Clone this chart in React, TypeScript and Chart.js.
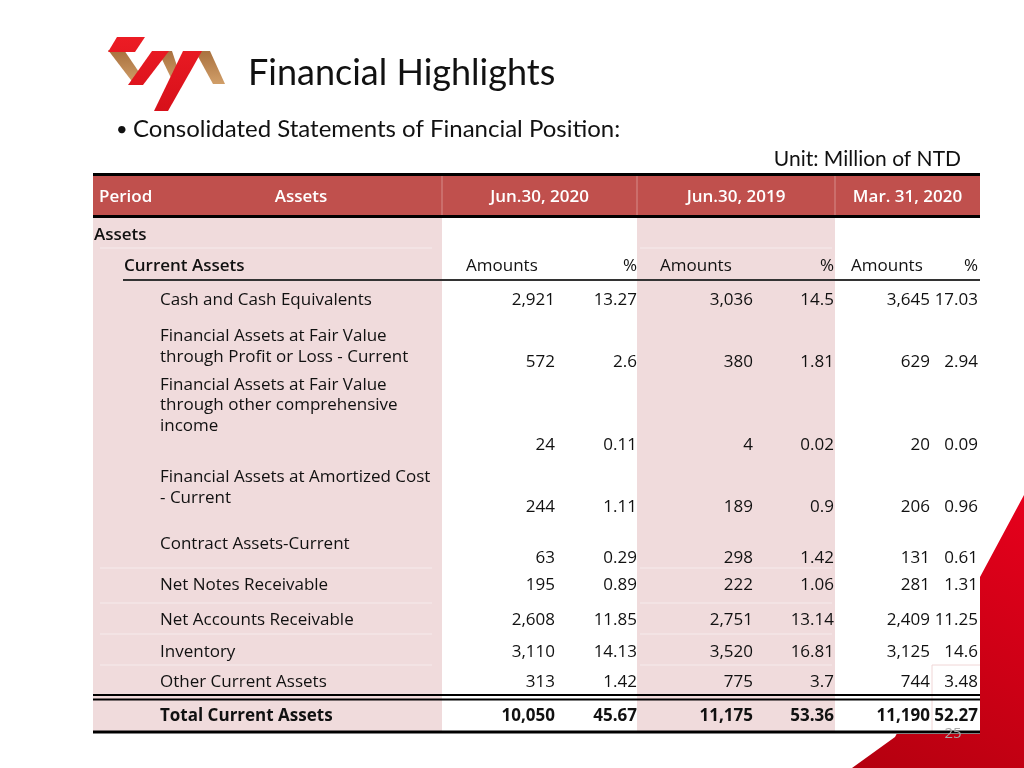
import React, { useEffect, useRef } from "react";
import { Chart, registerables } from "chart.js";

Chart.register(...registerables);

// ---------- data ----------
const slideTitle = "Financial Highlights";
const subtitle = "Consolidated Statements of Financial Position:";
const unitLabel = "Unit: Million of NTD";
const periods = ["Jun.30, 2020", "Jun.30, 2019", "Mar. 31, 2020"];
const rowLabels: string[][] = [
  ["Cash and Cash Equivalents"],
  ["Financial Assets at Fair Value", "through Profit or Loss - Current"],
  ["Financial Assets at Fair Value", "through other comprehensive", "income"],
  ["Financial Assets at Amortized Cost", "- Current"],
  ["Contract Assets-Current"],
  ["Net Notes Receivable"],
  ["Net Accounts Receivable"],
  ["Inventory"],
  ["Other Current Assets"],
];
const amountsJun2020 = [2921, 572, 24, 244, 63, 195, 2608, 3110, 313];
const pctJun2020 = [13.27, 2.6, 0.11, 1.11, 0.29, 0.89, 11.85, 14.13, 1.42];
const amountsJun2019 = [3036, 380, 4, 189, 298, 222, 2751, 3520, 775];
const pctJun2019 = [14.5, 1.81, 0.02, 0.9, 1.42, 1.06, 13.14, 16.81, 3.7];
const amountsMar2020 = [3645, 629, 20, 206, 131, 281, 2409, 3125, 744];
const pctMar2020 = [17.03, 2.94, 0.09, 0.96, 0.61, 1.31, 11.25, 14.6, 3.48];
const totalLabel = "Total Current Assets";
const totalAmounts = [10050, 11175, 11190];
const totalPcts = [45.67, 53.36, 52.27];
const pageNumber = "25";

// ---------- layout (slide units) ----------
const colEdges = [93, 442, 637, 835, 980];
const amountRight = [555, 753, 930];
const pctRight = [637, 834, 978];
const amountsHeaderLeft = [466, 660, 851];
const labelLineY: number[][] = [[300], [336, 357], [385, 405, 426], [477, 498], [544], [585], [620], [652], [682]];
const valueY = [300, 362, 445, 507, 558, 585, 620, 652, 682];

const TF = '"Open Sans", "Noto Sans", sans-serif';
const LF = '"Lato", "Open Sans", sans-serif';

const fmtAmt = (v: number) => v.toLocaleString("en-US");
const fmtPct = (v: number) => String(v);

const tablePlugin = {
  id: "slideTable",
  afterDraw(chart: any) {
    const ctx: CanvasRenderingContext2D = chart.ctx;
    const xs = chart.scales.x;
    const ys = chart.scales.y;
    const px = (v: number) => xs.getPixelForValue(v);
    const py = (v: number) => ys.getPixelForValue(v);

    const text = (s: string, x: number, y: number, align: CanvasTextAlign, font: string, color = "#111") => {
      ctx.font = font;
      ctx.fillStyle = color;
      ctx.textAlign = align;
      ctx.textBaseline = "middle";
      ctx.fillText(s, px(x), py(y));
    };
    const hline = (x1: number, x2: number, y: number, w: number, color: string) => {
      ctx.beginPath();
      ctx.strokeStyle = color;
      ctx.lineWidth = w;
      ctx.moveTo(px(x1), py(y));
      ctx.lineTo(px(x2), py(y));
      ctx.stroke();
    };
    const vline = (x: number, y1: number, y2: number, w: number, color: string) => {
      ctx.beginPath();
      ctx.strokeStyle = color;
      ctx.lineWidth = w;
      ctx.moveTo(px(x), py(y1));
      ctx.lineTo(px(x), py(y2));
      ctx.stroke();
    };
    const poly = (pts: number[][], fill: string | CanvasGradient) => {
      ctx.beginPath();
      pts.forEach((p, i) => (i ? ctx.lineTo(px(p[0]), py(p[1])) : ctx.moveTo(px(p[0]), py(p[1]))));
      ctx.closePath();
      ctx.fillStyle = fill;
      ctx.fill();
    };

    ctx.save();

    // red corner decoration
    const rg = ctx.createLinearGradient(px(1024), py(495), px(860), py(768));
    rg.addColorStop(0, "#e6001c");
    rg.addColorStop(1, "#b5000f");
    ctx.beginPath();
    ctx.moveTo(px(1024), py(495));
    ctx.lineTo(px(980), py(577));
    ctx.lineTo(px(895), py(737));
    ctx.lineTo(px(852), py(768));
    ctx.lineTo(px(1024), py(768));
    ctx.closePath();
    ctx.fillStyle = rg;
    ctx.fill();

    // logo
    const gold = ctx.createLinearGradient(0, py(50), 0, py(85));
    gold.addColorStop(0, "#a8703e");
    gold.addColorStop(1, "#d2a06a");
    const red = ctx.createLinearGradient(0, py(38), 0, py(110));
    red.addColorStop(0, "#ec1c24");
    red.addColorStop(1, "#d7101a");
    poly([[108, 50], [124, 50], [143, 78], [134, 84]], gold);
    poly([[158, 51], [172, 51], [181, 78], [172, 80]], gold);
    poly([[195, 51], [210, 51], [225, 84], [213, 84]], gold);
    poly([[117, 37], [145, 37], [135, 52], [108, 52]], red);
    poly([[152, 51], [169, 51], [143, 85], [128, 85]], red);
    poly([[183, 51], [202, 51], [168, 111], [154, 111]], red);

    // titles
    text(slideTitle, 248, 73, "left", `36px ${LF}`, "#111");
    text("•", 116, 130, "left", `20px ${LF}`, "#111");
    text(subtitle, 133, 129, "left", `24px ${LF}`, "#111");
    text(unitLabel, 961, 159, "right", `21px ${LF}`, "#111");

    // table body background
    ctx.fillStyle = "#ffffff";
    ctx.fillRect(px(colEdges[0]), py(172), px(colEdges[4]) - px(colEdges[0]), py(734) - py(172));
    const pink = "#f0dbdc";
    ctx.fillStyle = pink;
    ctx.fillRect(px(colEdges[0]), py(217), px(colEdges[1]) - px(colEdges[0]), py(731) - py(217));
    ctx.fillRect(px(colEdges[2]), py(217), px(colEdges[3]) - px(colEdges[2]), py(731) - py(217));

    // faint row separators
    const faint = "rgba(255,255,255,0.45)";
    [248, 568, 603, 634, 665].forEach((y) => {
      hline(100, 432, y, 1, faint);
      hline(640, 832, y, 1, faint);
    });
    hline(932, 980, 665, 1, "#f0d6d6");
    vline(932, 665, 733, 1, "#f0d6d6");

    // header
    ctx.fillStyle = "#c0504d";
    ctx.fillRect(px(colEdges[0]), py(175), px(colEdges[4]) - px(colEdges[0]), py(216) - py(175));
    [colEdges[1], colEdges[2], colEdges[3]].forEach((x) => vline(x, 176, 215, 1, "rgba(255,255,255,0.35)"));
    hline(colEdges[0], colEdges[4], 174.5, 3, "#000");
    hline(colEdges[0], colEdges[4], 216.5, 3, "#000");
    const hf = `600 17px ${TF}`;
    text("Period", 99, 197, "left", hf, "#fff");
    text("Assets", 301, 197, "center", hf, "#fff");
    periods.forEach((p, i) => text(p, (colEdges[i + 1] + colEdges[i + 2]) / 2, 197, "center", hf, "#fff"));

    // section rows
    const sf = `600 17px ${TF}`;
    const nf = `17px ${TF}`;
    text("Assets", 94, 235, "left", sf);
    text("Current Assets", 124, 266, "left", sf);
    for (let i = 0; i < 3; i++) {
      text("Amounts", amountsHeaderLeft[i], 266, "left", nf);
      text("%", pctRight[i], 266, "right", nf);
    }
    hline(123, colEdges[4], 280, 2, "#333");

    // data rows
    const amountCols = [amountsJun2020, amountsJun2019, amountsMar2020];
    const pctCols = [pctJun2020, pctJun2019, pctMar2020];
    rowLabels.forEach((lines, r) => {
      lines.forEach((ln, k) => text(ln, 160, labelLineY[r][k], "left", nf));
      for (let c = 0; c < 3; c++) {
        text(fmtAmt(amountCols[c][r]), amountRight[c], valueY[r], "right", nf);
        text(fmtPct(pctCols[c][r]), pctRight[c], valueY[r], "right", nf);
      }
    });

    // double rule and total
    hline(colEdges[0], colEdges[4], 695, 2, "#000");
    hline(colEdges[0], colEdges[4], 699.5, 2, "#000");
    const bf = `bold 17px ${TF}`;
    text(totalLabel, 160, 716, "left", bf);
    for (let c = 0; c < 3; c++) {
      text(fmtAmt(totalAmounts[c]), amountRight[c], 716, "right", bf);
      text(fmtPct(totalPcts[c]), pctRight[c], 716, "right", bf);
    }
    hline(colEdges[0], colEdges[4], 732, 3, "#000");

    text(pageNumber, 953, 734, "center", `15px ${TF}`, "#a8a8a8");
    ctx.restore();
  },
};

export default function App() {
  const ref = useRef<HTMLCanvasElement | null>(null);
  useEffect(() => {
    if (!ref.current) return;
    const chart = new Chart(ref.current, {
      type: "scatter",
      data: { datasets: [{ data: [], pointRadius: 0 }] },
      options: {
        animation: false,
        responsive: false,
        devicePixelRatio: 1,
        layout: { padding: 0 },
        plugins: { legend: { display: false }, tooltip: { enabled: false } },
        scales: {
          x: { type: "linear", min: 0, max: 1024, display: false },
          y: { type: "linear", min: 0, max: 768, reverse: true, display: false },
        },
      },
      plugins: [tablePlugin],
    } as any);
    return () => chart.destroy();
  }, []);
  return (
    <canvas
      ref={ref}
      width={1024}
      height={768}
      style={{ position: "fixed", left: 0, top: 0, width: 1024, height: 768, background: "#fff" }}
    />
  );
}
